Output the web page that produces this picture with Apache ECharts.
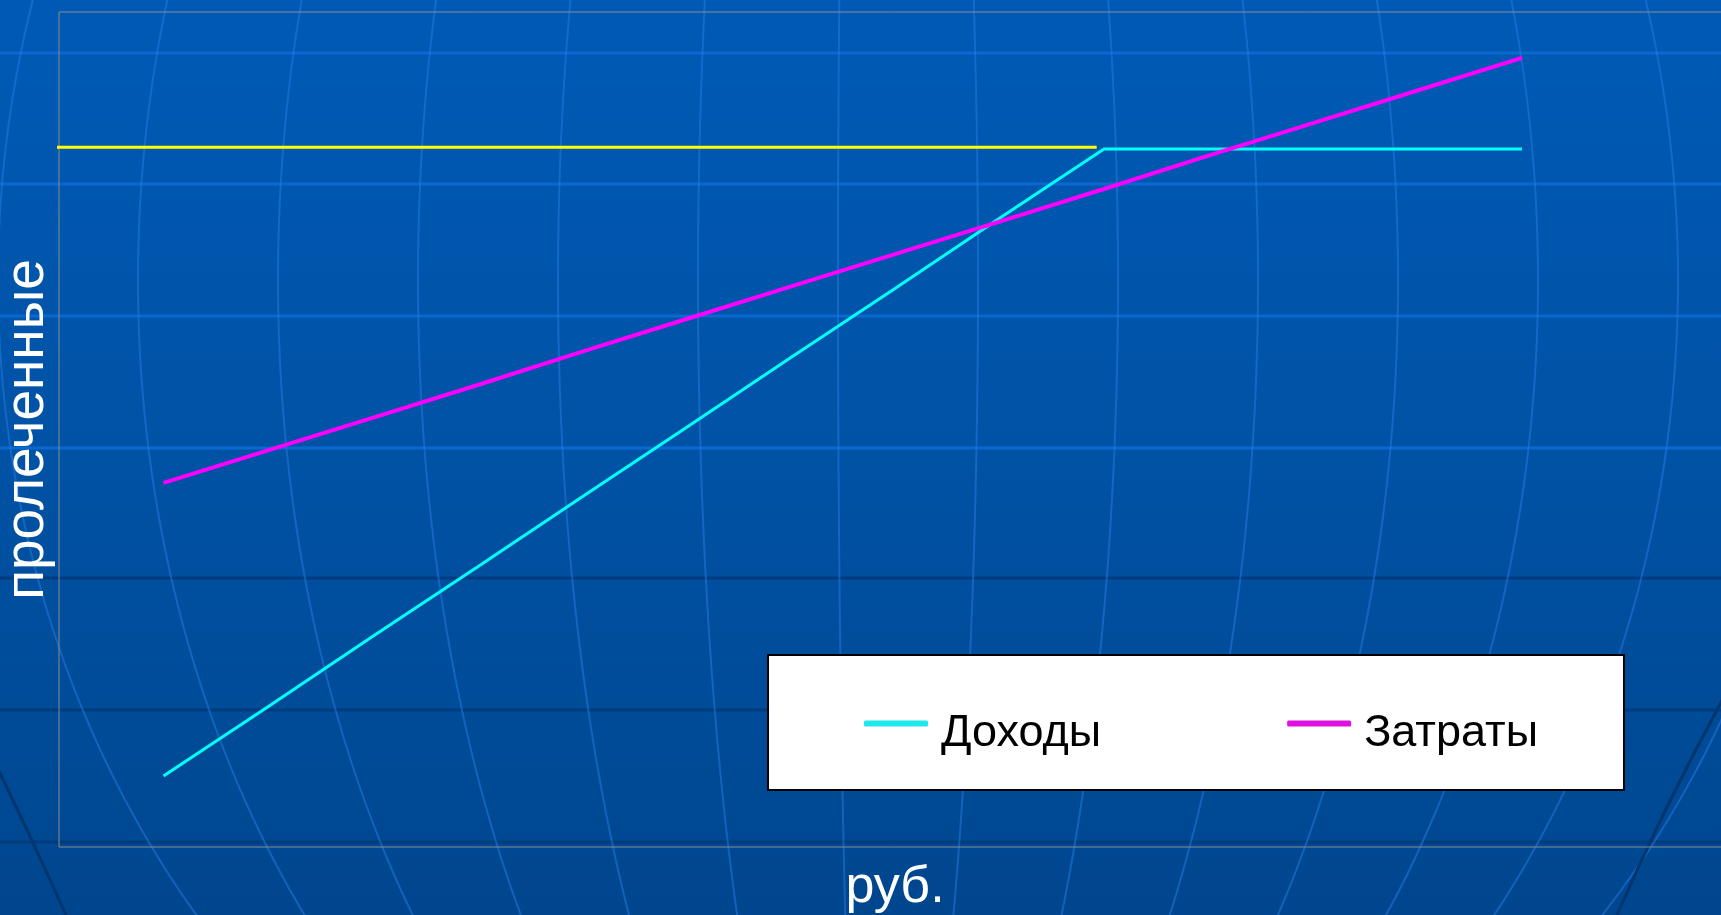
<!DOCTYPE html>
<html>
<head>
<meta charset="utf-8">
<script src="https://cdn.jsdelivr.net/npm/echarts@6/dist/echarts.min.js"></script>
<style>
html,body{margin:0;padding:0;width:1721px;height:915px;overflow:hidden;background:#0052a4;}
#chart{width:1721px;height:915px;}
</style>
</head>
<body>
<div id="chart"></div>
<script>
// ---- data ----
const xPoints = [1, 2, 3, 4, 5, 6, 7, 8, 9, 10, 11, 12, 13, 14];
const incomeValues = [8.5, 16.8, 25.2, 33.5, 41.9, 50.2, 58.6, 66.9, 75.3, 83.6, 83.6, 83.6, 83.6, 83.6];
const costValues = [43.6, 47.5, 51.4, 55.3, 59.3, 63.2, 67.1, 71.0, 74.9, 78.8, 82.8, 86.7, 90.6, 94.5];
const capacityX = [-0.05, 9.93];
const capacityValues = [83.8, 83.8];
const seriesNames = ['Доходы', 'Затраты'];
const xAxisName = 'руб.';
const yAxisName = 'пролеченные';

// ---- decorative background (slide template globe) ----
const W = 1721, H = 915;
const bg = [];
bg.push({
  type: 'rect', z: -100, silent: true,
  shape: {x: 0, y: 0, width: W, height: H},
  style: {fill: new echarts.graphic.LinearGradient(0, 0, 0, 1, [
    {offset: 0, color: '#005ab5'},
    {offset: 0.5, color: '#0052a5'},
    {offset: 1, color: '#00468e'}
  ])}
});
[53, 184, 316, 448].forEach(y => bg.push({
  type: 'line', z: -90, silent: true,
  shape: {x1: 0, y1: y, x2: W, y2: y},
  style: {stroke: '#0a68d2', lineWidth: 3}
}));
[578, 710, 842].forEach(y => bg.push({
  type: 'line', z: -90, silent: true,
  shape: {x1: 0, y1: y, x2: W, y2: y},
  style: {stroke: '#003c7c', lineWidth: 3}
}));
const cx = 870, cy = 280, R = 1000;
for (let n = -6; n <= 7; n++) {
  const o = -32 + 140 * n;
  const pts = [];
  for (let y = -10; y <= H + 10; y += 15) {
    const w = Math.sqrt(Math.max(0, 1 - Math.pow((y - cy) / R, 2)));
    pts.push([cx + o * w, y]);
  }
  bg.push({
    type: 'polyline', z: -80, silent: true,
    shape: {points: pts},
    style: {stroke: 'rgba(35,125,230,0.5)', lineWidth: 2, fill: null}
  });
}
bg.push({
  type: 'bezierCurve', z: -80, silent: true,
  shape: {x1: -4, y1: 765, x2: 66, y2: 915, cpx1: 30, cpy1: 835},
  style: {stroke: '#00356e', lineWidth: 3, fill: null}
});
bg.push({
  type: 'bezierCurve', z: -80, silent: true,
  shape: {x1: 1725, y1: 695, x2: 1617, y2: 915, cpx1: 1665, cpy1: 805},
  style: {stroke: '#00356e', lineWidth: 3, fill: null}
});

const chart = echarts.init(document.getElementById('chart'));
chart.setOption({
  animation: false,
  backgroundColor: 'transparent',
  graphic: {elements: bg},
  grid: {
    left: 59, top: 12, width: 1672, bottom: 68,
    containLabel: false, outerBoundsMode: 'none',
    show: true, borderColor: '#8c8c8c', borderWidth: 1, backgroundColor: 'transparent'
  },
  xAxis: {
    type: 'value', min: 0, max: 16,
    axisLine: {show: false}, axisTick: {show: false}, axisLabel: {show: false}, splitLine: {show: false},
    name: xAxisName, nameLocation: 'middle', nameGap: 15,
    nameTextStyle: {color: '#ffffff', fontSize: 52, fontFamily: 'Liberation Sans'}
  },
  yAxis: {
    type: 'value', min: 0, max: 100,
    axisLine: {show: false}, axisTick: {show: false}, axisLabel: {show: false}, splitLine: {show: false},
    name: yAxisName, nameLocation: 'middle', nameGap: 4,
    nameTextStyle: {color: '#ffffff', fontSize: 55, fontFamily: 'Liberation Sans'}
  },
  legend: {
    data: seriesNames,
    left: 768, top: 655,
    orient: 'horizontal',
    backgroundColor: '#ffffff', borderColor: '#000000', borderWidth: 2,
    padding: [56, 86, 34, 96],
    itemGap: 186, itemWidth: 64, itemHeight: 6,
    icon: 'roundRect',
    z: 10,
    formatter: '{t|{name}}',
    textStyle: {
      color: '#000000', fontSize: 45, fontFamily: 'Liberation Sans', padding: [0, 0, 0, 8],
      rich: {t: {color: '#000000', fontSize: 45, fontFamily: 'Liberation Sans', padding: [20, 0, 0, 0]}}
    }
  },
  series: [
    {
      name: seriesNames[0], type: 'line', showSymbol: false, z: 3,
      data: xPoints.map((x, i) => [x, incomeValues[i]]),
      lineStyle: {color: '#00ffff', width: 3}, itemStyle: {color: '#1de8ec'}
    },
    {
      name: seriesNames[1], type: 'line', showSymbol: false, z: 4,
      data: xPoints.map((x, i) => [x, costValues[i]]),
      lineStyle: {color: '#ff00ff', width: 4}, itemStyle: {color: '#e010e0'}
    },
    {
      name: 'capacity', type: 'line', showSymbol: false, z: 2, clip: false,
      data: capacityX.map((x, i) => [x, capacityValues[i]]),
      lineStyle: {color: '#ffff00', width: 3}
    }
  ]
});
</script>
</body>
</html>
